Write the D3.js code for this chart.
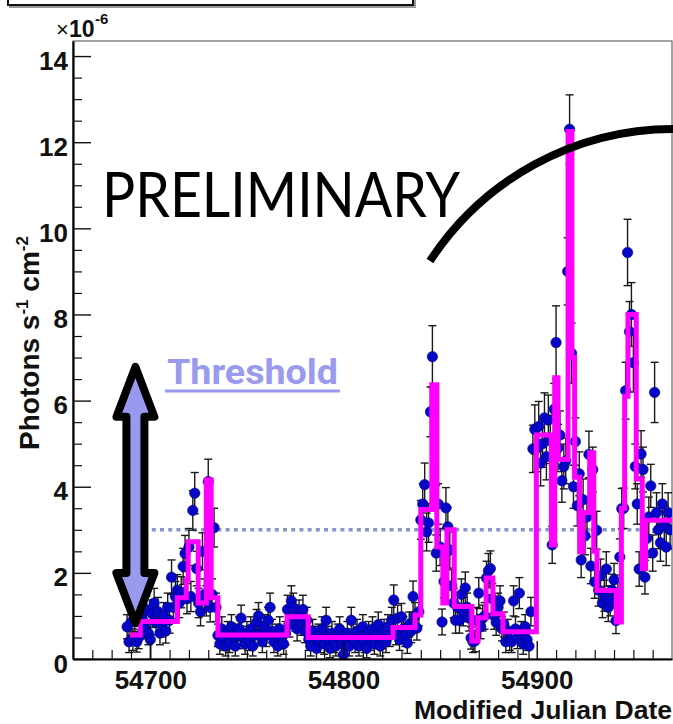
<!DOCTYPE html>
<html><head><meta charset="utf-8">
<script src="https://cdn.jsdelivr.net/npm/d3@7"></script>
<style>body{margin:0;background:#fff}svg{display:block}</style>
</head><body>
<script>
// ---------------- DATA ----------------
const firstMJD = 54688;
const flux = [
0.75,0.4,0.85,0.45,0.9,0.4,0.5,1.0,0.9,0.75,
1.15,0.6,0.45,1.05,1.3,0.85,1.1,0.6,0.8,1.0,
0.65,1.2,0.9,1.9,1.2,1.45,1.6,1.3,1.55,2.15,
2.45,1.4,2.6,1.45,3.45,3.85,2.1,1.3,1.1,2.5,
1.5,1.35,4.12,1.2,1.5,3.05,1.2,0.55,0.35,0.7,
0.45,0.3,0.6,0.4,0.75,0.5,0.3,0.55,0.7,0.95,
0.5,0.35,0.6,0.45,0.7,0.3,0.55,0.85,1.0,0.6,
0.4,0.75,0.55,0.9,1.2,0.65,0.4,0.55,0.3,0.7,
0.5,0.35,0.6,1.15,0.8,1.35,1.2,0.95,0.7,1.05,
0.85,1.15,0.65,0.9,0.45,0.3,0.65,0.5,0.25,0.55,
0.4,0.7,0.35,0.9,0.5,0.25,0.6,0.4,0.3,0.55,
0.7,0.35,0.1,0.45,0.6,0.3,0.9,0.55,0.4,0.65,
0.3,0.5,0.75,0.4,0.25,0.6,0.45,0.7,0.35,0.55,
0.8,0.3,0.5,0.65,0.4,0.75,0.55,0.9,1.37,0.6,
0.95,0.45,0.98,0.7,0.55,0.37,0.8,0.65,1.45,1.0,
0.72,1.1,3.23,3.6,4.05,2.95,3.16,5.74,7.02,4.05,
2.46,3.6,2.6,0.86,1.8,3.51,3.07,2.53,1.7,1.3,
0.9,1.2,0.9,1.5,1.1,1.65,1.2,0.95,0.49,0.4,
0.42,0.9,1.53,0.75,0.95,1.0,1.88,2.05,2.1,1.4,
1.0,0.85,1.2,1.35,0.7,0.8,0.4,0.65,0.45,0.4,
1.35,0.7,0.5,1.53,0.6,0.35,0.75,0.45,0.3,1.1,
4.88,5.33,4.9,5.4,4.55,5.0,5.6,4.7,5.55,5.1,
2.65,5.8,7.35,4.9,5.2,4.14,4.47,4.6,9.0,12.3,
7.1,4.0,5.05,3.56,4.3,2.3,3.7,2.86,3.3,4.75,
2.16,4.4,1.79,2.99,1.6,1.93,1.3,1.47,2.09,1.2,
1.35,1.6,1.84,0.89,1.5,2.37,3.49,3.5,6.23,9.44,
7.6,8.0,6.88,4.47,3.6,2.09,4.76,4.4,1.9,2.8,
3.3,4.02,2.46,6.19,3.4,3.0,2.7,3.6,3.1,2.6,
3.4,3.0
];
const fluxErr = [
0.28,0.25,0.3,0.25,0.3,0.24,0.26,0.32,0.3,0.28,
0.32,0.27,0.45,0.32,0.34,0.29,0.33,0.27,0.29,0.31,
0.28,0.33,0.3,0.4,0.33,0.35,0.36,0.34,0.36,0.42,
0.42,0.35,0.43,0.35,0.46,0.48,0.4,0.34,0.33,0.43,
0.36,0.35,0.52,0.34,0.36,0.45,0.33,0.26,0.24,0.28,
0.25,0.23,0.27,0.25,0.28,0.26,0.23,0.26,0.28,0.3,
0.26,0.24,0.27,0.25,0.28,0.23,0.26,0.3,0.31,0.27,
0.25,0.28,0.26,0.3,0.33,0.27,0.25,0.26,0.23,0.28,
0.26,0.24,0.27,0.33,0.29,0.35,0.33,0.3,0.28,0.32,
0.3,0.33,0.27,0.3,0.25,0.23,0.27,0.26,0.25,0.26,
0.25,0.28,0.24,0.3,0.26,0.22,0.27,0.25,0.23,0.26,
0.28,0.24,0.2,0.25,0.27,0.23,0.3,0.26,0.25,0.27,
0.23,0.26,0.28,0.25,0.22,0.27,0.25,0.28,0.24,0.26,
0.29,0.23,0.26,0.27,0.25,0.28,0.26,0.3,0.35,0.27,
0.3,0.25,0.31,0.28,0.26,0.24,0.29,0.27,0.36,0.31,
0.28,0.33,0.45,0.47,0.5,0.44,0.45,0.58,0.72,0.5,
0.42,0.47,0.43,0.3,0.38,0.47,0.45,0.42,0.37,0.34,
0.3,0.33,0.3,0.36,0.33,0.37,0.33,0.3,0.26,0.25,
0.25,0.3,0.36,0.28,0.3,0.31,0.39,0.4,0.41,0.35,
0.31,0.3,0.33,0.35,0.28,0.29,0.25,0.27,0.25,0.25,
0.35,0.28,0.26,0.36,0.27,0.24,0.28,0.25,0.3,0.33,
0.55,0.57,0.55,0.58,0.53,0.55,0.58,0.54,0.58,0.56,
0.43,0.6,0.85,0.55,0.56,0.5,0.52,0.53,0.78,0.8,
0.7,0.5,0.55,0.47,0.51,0.41,0.48,0.44,0.46,0.54,
0.41,0.52,0.38,0.44,0.37,0.39,0.34,0.36,0.4,0.33,
0.35,0.37,0.38,0.3,0.36,0.42,0.47,0.47,0.66,0.77,
0.7,0.74,0.68,0.52,0.47,0.4,0.54,0.52,0.39,0.44,
0.46,0.5,0.42,0.7,0.46,0.44,0.43,0.47,0.45,0.43,
0.46,0.44
];
const mjd = d3.range(flux.length).map(i => firstMJD + i);

// Bayesian-block step light curve
const blockEdges = [54689.5,54694.8,54714,54718.6,54719.6,54724.8,54729,54731.5,54735,54770.8,54781.7,54825.6,54837,54840,54845.7,54848.3,54851.4,54853.5,54857.3,54866.4,54869.5,54873.8,54877.3,54882.5,54899.8,54907.6,54909.3,54911,54916.2,54918.2,54919.6,54922.2,54923.9,54927.4,54929.5,54931.2,54941.2,54943.8,54945.5,54947.2,54951.5,54954.6,54956.3,54970];
const blockLevels = [0.56,0.87,1.42,1.84,2.72,1.3,4.16,1.42,0.56,0.98,0.5,0.73,1.02,3.47,6.37,2.6,1.3,3.0,1.22,0.42,0.96,1.88,1.05,0.63,5.2,2.65,6.53,4.63,12.25,7.0,4.22,2.49,3.4,4.79,2.5,1.59,0.86,3.5,6.1,8.0,4.18,2.1,3.22];

const yMajorTicks = [0,2,4,6,8,10,12,14];
const xMajorTicks = [54700,54800,54900];
const thresholdValue = 3.0;
const arrowMJD = 54692.3, arrowTop = 6.9, arrowBottom = 0.72;

// ---------------- LAYOUT ----------------
const W = 673, H = 724;
const L = 73, R = 672, T = 41, B = 659;
const x = d3.scaleLinear().domain([54660, 54970]).range([L, R]);
const y = d3.scaleLinear().domain([0, 14.35]).range([B, T]);
const font = "'Liberation Sans', Arial, Helvetica, sans-serif";

const svg = d3.select("body").append("svg").attr("width", W).attr("height", H);
svg.append("rect").attr("width", W).attr("height", H).attr("fill", "#fff");

// top cut-off box
svg.append("rect").attr("x", 10).attr("y", -20).attr("width", 405).attr("height", 27)
  .attr("fill", "none").attr("stroke", "#999").attr("stroke-width", 2);
svg.append("rect").attr("x", 8).attr("y", -20).attr("width", 405).attr("height", 25)
  .attr("fill", "#fff").attr("stroke", "#111").attr("stroke-width", 2);

// frame
svg.append("rect").attr("x", L).attr("y", T).attr("width", R - L).attr("height", B - T)
  .attr("fill", "none").attr("stroke", "#666").attr("stroke-width", 1.2);

svg.append("defs").append("clipPath").attr("id", "plot")
  .append("rect").attr("x", L).attr("y", T).attr("width", R - L).attr("height", B - T);
const plot = svg.append("g").attr("clip-path", "url(#plot)");

// threshold dotted line
plot.append("line")
  .attr("x1", x(arrowMJD)).attr("x2", R)
  .attr("y1", y(thresholdValue)).attr("y2", y(thresholdValue))
  .attr("stroke", "#8496cc").attr("stroke-width", 3.5).attr("stroke-dasharray", "4 4.2");

// points
const pts = mjd.map((m, i) => ({m, v: flux[i], e: fluxErr[i]}));
const eb = plot.append("g").attr("stroke", "#1a1a1a").attr("stroke-width", 1.4);
eb.selectAll("line.v").data(pts).join("line").attr("class", "v")
  .attr("x1", d => x(d.m)).attr("x2", d => x(d.m))
  .attr("y1", d => y(d.v + d.e)).attr("y2", d => y(Math.max(0, d.v - d.e)));
eb.selectAll("line.t").data(pts).join("line").attr("class", "t")
  .attr("x1", d => x(d.m) - 4).attr("x2", d => x(d.m) + 4)
  .attr("y1", d => y(d.v + d.e)).attr("y2", d => y(d.v + d.e));
eb.selectAll("line.b").data(pts.filter(d => d.v - d.e > 0)).join("line").attr("class", "b")
  .attr("x1", d => x(d.m) - 4).attr("x2", d => x(d.m) + 4)
  .attr("y1", d => y(d.v - d.e)).attr("y2", d => y(d.v - d.e));
plot.append("g").selectAll("circle").data(pts).join("circle")
  .attr("cx", d => x(d.m)).attr("cy", d => y(d.v)).attr("r", 5.2)
  .attr("fill", "#0606c8").attr("stroke", "#00007a").attr("stroke-width", 0.6);

// step curve
const steps = [];
blockLevels.forEach((lv, i) => { steps.push([blockEdges[i], lv]); steps.push([blockEdges[i + 1], lv]); });
plot.append("path").datum(steps)
  .attr("d", d3.line().x(d => x(d[0])).y(d => y(d[1])))
  .attr("fill", "none").attr("stroke", "#ff00ff").attr("stroke-width", 5);

// axes
const yAxis = svg.append("g").attr("transform", `translate(${L},0)`)
  .call(d3.axisLeft(y).tickValues(yMajorTicks).tickSizeInner(-18).tickSizeOuter(0).tickPadding(5).tickFormat(d3.format("d")));
const yMinor = svg.append("g").attr("transform", `translate(${L},0)`)
  .call(d3.axisLeft(y).tickValues(d3.range(0, 14.01, 0.5).filter(v => v % 2 !== 0)).tickSizeInner(-9).tickSizeOuter(0).tickFormat(""));
const xAxis = svg.append("g").attr("transform", `translate(0,${B})`)
  .call(d3.axisBottom(x).tickValues(xMajorTicks).tickSizeInner(-18).tickSizeOuter(0).tickPadding(12).tickFormat(d3.format("d")));
const xMinor = svg.append("g").attr("transform", `translate(0,${B})`)
  .call(d3.axisBottom(x).tickValues(d3.range(54670, 54970, 10).filter(v => v % 100 !== 0)).tickSizeInner(-9).tickSizeOuter(0).tickFormat(""));
[yAxis, xAxis].forEach(g => {
  g.select(".domain").attr("stroke", "#000").attr("stroke-width", 2.2);
  g.selectAll(".tick line").attr("stroke", "#111").attr("stroke-width", 1.4);
  g.selectAll(".tick text").attr("fill", "#111").style("font-family", font).style("font-weight", "bold").style("font-size", "26px");
});
[yMinor, xMinor].forEach(g => {
  g.select(".domain").remove();
  g.selectAll(".tick line").attr("stroke", "#111").attr("stroke-width", 1.2);
});
yAxis.selectAll(".tick text").attr("dy", "0.5em");

// exponent label (×10^-6)
svg.append("text").attr("x", 56).attr("y", 37).attr("fill", "#111")
  .style("font-family", font).style("font-size", "22px").style("font-weight", "normal").text("×");
svg.append("text").attr("x", 69).attr("y", 37).attr("fill", "#111")
  .style("font-family", font).style("font-size", "23px").style("font-weight", "bold").text("10");
svg.append("text").attr("x", 95).attr("y", 24).attr("fill", "#111")
  .style("font-family", font).style("font-size", "15px").style("font-weight", "bold").text("-6");

// y title
const yt = svg.append("text").attr("transform", "translate(39,343) rotate(-90)")
  .attr("text-anchor", "middle").attr("font-family", font).attr("font-weight", "bold")
  .attr("font-size", 28).attr("fill", "#111");
yt.append("tspan").text("Photons s");
yt.append("tspan").text("-1").attr("font-size", 17).attr("dy", -11);
yt.append("tspan").text(" cm").attr("dy", 11);
yt.append("tspan").text("-2").attr("font-size", 17).attr("dy", -11);

// x title
svg.append("text").attr("x", 672).attr("y", 719).attr("text-anchor", "end")
  .attr("font-family", font).attr("font-weight", "bold").attr("font-size", 25)
  .attr("fill", "#111").attr("textLength", 258).attr("lengthAdjust", "spacingAndGlyphs").text("Modified Julian Date");

// Threshold label
svg.append("text").attr("x", 167).attr("y", 384)
  .attr("font-family", "Roboto, 'Liberation Sans', sans-serif").attr("font-weight", "bold").attr("font-size", 35)
  .attr("fill", "#9a9aee").attr("textLength", 171).attr("lengthAdjust", "spacingAndGlyphs").text("Threshold");
svg.append("line").attr("x1", 165).attr("x2", 340).attr("y1", 391).attr("y2", 391)
  .attr("stroke", "#9a9aee").attr("stroke-width", 3);

// double arrow
const ax = x(arrowMJD), ay1 = y(arrowTop) + 5, ay2 = y(arrowBottom) - 5;
const headLen = 50, headHalf = 19, shaftHalf = 9;
const arrowPts = [
  [ax, ay1], [ax + headHalf, ay1 + headLen], [ax + shaftHalf, ay1 + headLen],
  [ax + shaftHalf, ay2 - headLen], [ax + headHalf, ay2 - headLen], [ax, ay2],
  [ax - headHalf, ay2 - headLen], [ax - shaftHalf, ay2 - headLen],
  [ax - shaftHalf, ay1 + headLen], [ax - headHalf, ay1 + headLen]
];
svg.append("polygon").attr("points", arrowPts.map(p => p.join(",")).join(" "))
  .attr("fill", "#9999ee").attr("stroke", "#000").attr("stroke-width", 8).attr("stroke-linejoin", "round");

// PRELIMINARY
svg.append("text").attr("x", 102).attr("y", 217)
  .attr("font-family", "Lato, 'Open Sans', 'DejaVu Sans', sans-serif").attr("font-weight", 400).attr("font-size", 61)
  .attr("fill", "#000").attr("textLength", 358).attr("lengthAdjust", "spacingAndGlyphs").text("PRELIMINARY");

// arc
svg.append("path").attr("d", "M430,261 A291,291 0 0,1 673,129 L700,129")
  .attr("fill", "none").attr("stroke", "#000").attr("stroke-width", 8);
</script>
</body></html>
